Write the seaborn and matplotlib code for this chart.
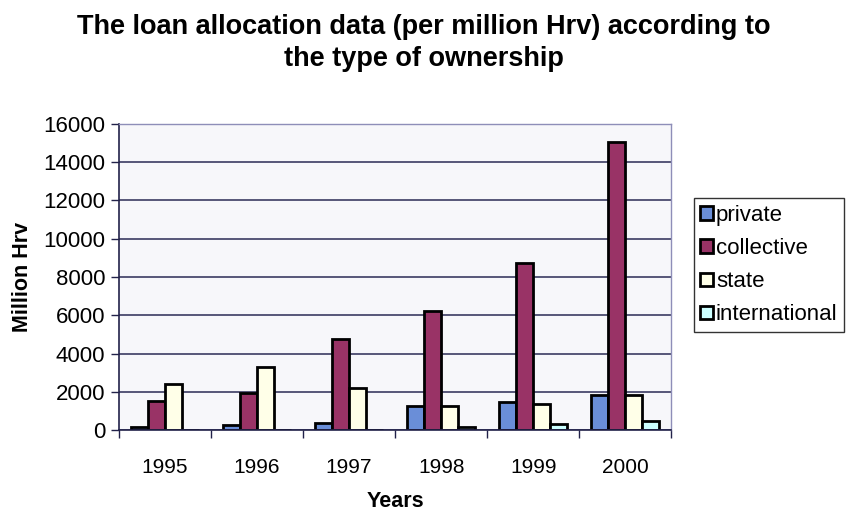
import matplotlib
matplotlib.use("Agg")
import matplotlib.pyplot as plt
from matplotlib.patches import Patch
from matplotlib.ticker import FixedLocator, NullFormatter
import pandas as pd
import seaborn as sns

years = ["1995", "1996", "1997", "1998", "1999", "2000"]
private = [150, 250, 380, 1240, 1470, 1820]
collective = [1520, 1940, 4740, 6240, 8710, 15040]
state = [2430, 3290, 2220, 1275, 1360, 1850]
international = [0, 0, 0, 170, 300, 460]

series = {
    "private": private,
    "collective": collective,
    "state": state,
    "international": international,
}
colors = ["#6A8ED8", "#993366", "#FFFFE8", "#CCFFFF"]

df = pd.DataFrame(
    [(y, name, v) for name, vals in series.items() for y, v in zip(years, vals)],
    columns=["Year", "Ownership", "Value"],
)

sns.set_style("white")
plt.rcParams["font.family"] = ["Liberation Sans", "DejaVu Sans"]
plt.rcParams["text.color"] = "black"
plt.rcParams["axes.labelcolor"] = "black"
plt.rcParams["xtick.color"] = "black"
plt.rcParams["ytick.color"] = "black"

fig = plt.figure(figsize=(8.47, 5.12), dpi=100)
ax = fig.add_axes([0.1405, 0.160, 0.652, 0.598])
ax.set_facecolor("#F7F7FA")

sns.barplot(
    data=df, x="Year", y="Value", hue="Ownership",
    palette=colors, width=0.74, edgecolor="black", linewidth=2.0,
    ax=ax, legend=False, errorbar=None, saturation=1,
)

ax.set_ylim(0, 16000)
ax.set_xlim(-0.5, len(years) - 0.5)
ax.set_yticks(range(0, 16001, 2000))
ax.yaxis.grid(True, color="#2B2B55", linewidth=1.1)
ax.set_axisbelow(True)

for s in ["top", "right"]:
    ax.spines[s].set_color("#8E8EB8")
    ax.spines[s].set_linewidth(1.0)
for s in ["left", "bottom"]:
    ax.spines[s].set_color("#22224A")
    ax.spines[s].set_linewidth(1.2)

ax.tick_params(axis="y", direction="out", length=6, width=1, color="#22224A",
               labelsize=16, pad=4, left=True)
ax.tick_params(axis="x", which="major", length=0, labelsize=15, pad=20)
ax.xaxis.set_minor_locator(FixedLocator([i - 0.5 for i in range(len(years) + 1)]))
ax.xaxis.set_minor_formatter(NullFormatter())
ax.tick_params(axis="x", which="minor", direction="out", length=6, width=1,
               color="#22224A", bottom=True)

ax.set_xlabel("Years", fontsize=15.5, fontweight="bold", labelpad=10)
ax.set_ylabel("Million Hrv", fontsize=15.5, fontweight="bold", labelpad=7)

fig.suptitle("The loan allocation data (per million Hrv) according to\nthe type of ownership",
             fontsize=19.5, fontweight="bold", y=0.973, linespacing=1.3)

handles = [Patch(facecolor=c, edgecolor="black", linewidth=2.0) for c in colors]
leg = fig.legend(handles, list(series.keys()), loc="upper left",
                 bbox_to_anchor=(0.819, 0.613), frameon=True, fancybox=False,
                 fontsize=16, handlelength=0.55, handleheight=0.55, handletextpad=0.15,
                 labelspacing=0.55, borderpad=0.3, borderaxespad=0)
leg.get_frame().set_edgecolor("black")
leg.get_frame().set_linewidth(1.0)

fig.savefig("out.png", dpi=100)
